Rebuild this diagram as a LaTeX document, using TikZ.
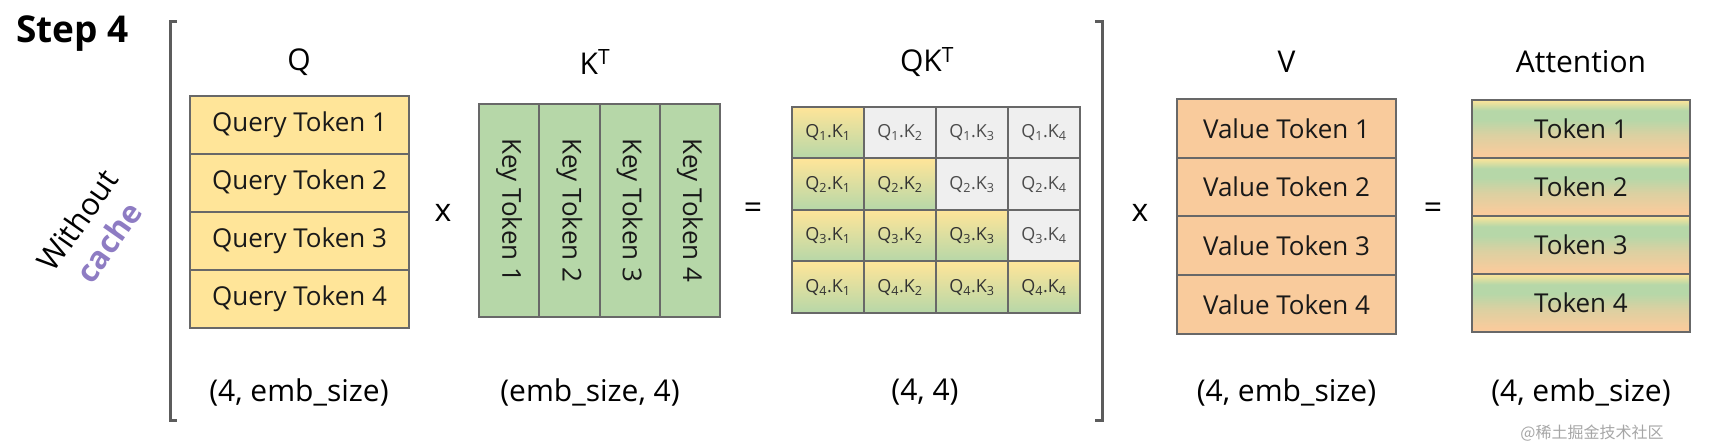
\documentclass[tikz,border=0pt]{standalone}
\usepackage{fontspec}
\setmainfont{Open Sans}
\newfontfamily\cjk{Noto Sans CJK SC}
\usepackage{xcolor}
\usetikzlibrary{positioning}

\definecolor{qyellow}{HTML}{FFE599}
\definecolor{kgreen}{HTML}{B6D7A8}
\definecolor{vorange}{HTML}{F9CB9C}
\definecolor{cellgray}{HTML}{EFEFEF}
\definecolor{edge}{HTML}{686868}
\definecolor{brkgray}{HTML}{5C5C5C}
\definecolor{cachepurple}{HTML}{8E7CC3}
\colorlet{attnmid}{vorange!55!kgreen}

\pgfdeclareverticalshading{attnshade}{100bp}{color(0bp)=(vorange); color(28bp)=(vorange); color(45bp)=(attnmid); color(58bp)=(kgreen); color(66bp)=(kgreen); color(75bp)=(qyellow); color(100bp)=(qyellow)}

\newcommand\tokfont{\fontsize{26}{30}\selectfont}
\newcommand\cellfont{\fontsize{18}{20}\selectfont}
\newcommand\labfont{\fontsize{30}{34}\selectfont}
\newcommand\dimfont{\fontsize{30}{34}\selectfont}
\newcommand\opfont{\fontsize{32}{36}\selectfont}

\begin{document}
\begin{tikzpicture}[
            x=1pt, y=-1pt,
            caixa/.style={draw=edge, line width=2pt, outer sep=0pt, inner sep=0pt, text=black!90},
            qrow/.style={caixa, fill=qyellow, minimum width=219pt, minimum height=58pt, font=\tokfont},
            kcol/.style={caixa, fill=kgreen, rotate=-90, minimum width=213pt, minimum height=60.25pt, font=\tokfont},
            cellgrad/.style={caixa, top color=qyellow, bottom color=kgreen, minimum width=72pt, minimum height=51.5pt, font=\cellfont, text=black!80},
            cellgray/.style={caixa, fill=cellgray, minimum width=72pt, minimum height=51.5pt, font=\cellfont, text=black!70},
            vrow/.style={caixa, fill=vorange, minimum width=219pt, minimum height=58.75pt, font=\tokfont},
            arow/.style={caixa, shading=attnshade, minimum width=218pt, minimum height=58pt, font=\tokfont},
            titulo/.style={font=\labfont, inner sep=0pt},
            dimensao/.style={font=\dimfont, inner sep=0pt},
            oper/.style={font=\opfont, inner sep=0pt},
            colchete/.style={draw=brkgray, line width=3pt}
        ]
            \useasboundingbox (0,0) rectangle (1712,446);

            % Passo e legenda lateral
            \node[anchor=base west, inner sep=0pt, font=\fontsize{37}{42}\selectfont\bfseries] (passo) at (16,43) {Step 4};
            \node[rotate=55, align=center, font=\fontsize{31}{38}\selectfont] (semcache) at (93,231)
                {Without\\\textcolor{cachepurple}{\bfseries cache}};

            % Colchetes em volta de Q x K^T
            \draw[colchete] (177,22) -- (170,22) -- (170,420) -- (177,420);
            \draw[colchete] (1095,22) -- (1102,22) -- (1102,420) -- (1095,420);

            % Matrizes
            \foreach \i in {1,...,4}
                \node[qrow] (q\i) at (299.5, 67+58*\i) {Query Token \i};
            \foreach \i in {1,...,4}
                \node[kcol] (k\i) at (448.875+60.25*\i, 210.5) {Key Token \i};
            \foreach \r in {1,...,4}
                \foreach \c in {1,...,4} {
                    \ifnum\c>\r \def\estilo{cellgray}\else\def\estilo{cellgrad}\fi
                    \node[\estilo] (qk\r\c) at (756+72*\c, 81.25+51.5*\r) {Q\textsubscript{\r}.K\textsubscript{\c}};
                }
            \foreach \i in {1,...,4}
                \node[vrow] (v\i) at (1286.5, 69.625+58.75*\i) {Value Token \i};
            \foreach \i in {1,...,4}
                \node[arow] (a\i) at (1581, 71+58*\i) {Token \i};

            % Operadores
            \node[oper] (vezes1) at (443,213) {x};
            \node[oper] (igual1) at (753,211) {=};
            \node[oper] (vezes2) at (1140,213) {x};
            \node[oper] (igual2) at (1433,211) {=};

            % Nomes acima
            \node[titulo] (tq) at (299,62) {Q};
            \node[titulo] (tk) at (595,62) {K\textsuperscript{T}};
            \node[titulo] (tqk) at (927,62) {QK\textsuperscript{T}};
            \node[titulo] (tv) at (1286.5,62) {V};
            \node[titulo] (ta) at (1581,62) {Attention};

            % Dimensões abaixo
            \node[dimensao] (dq) at (299,392) {(4, emb\_size)};
            \node[dimensao] (dk) at (590,392) {(emb\_size, 4)};
            \node[dimensao] (dqk) at (925,392) {(4, 4)};
            \node[dimensao] (dv) at (1286.5,392) {(4, emb\_size)};
            \node[dimensao] (da) at (1581,392) {(4, emb\_size)};

            % Marca d'água
            \node[font=\cjk\fontsize{16}{18}\selectfont, text=black!35, inner sep=0pt] (marca) at (1592,433) {@稀土掘金技术社区};
        \end{tikzpicture}
\end{document}
